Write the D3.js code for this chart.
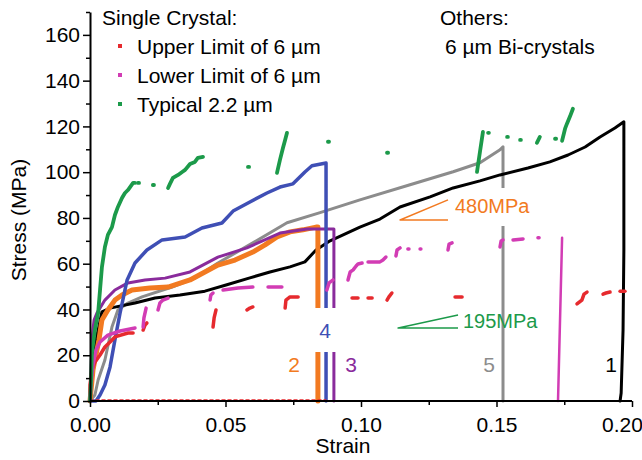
<!DOCTYPE html>
<html lang="en">
<head>
<meta charset="UTF-8">
<title>Stress-Strain</title>
<script src="https://cdn.jsdelivr.net/npm/d3@7/dist/d3.min.js"></script>
<style>
    body { margin: 0; background: #fff; }
    svg text { font-family: "Liberation Sans", Arial, sans-serif; }
</style>
</head>
<body>
<svg width="642" height="460"></svg>
<script>
    // ticks
    var xTicks = [0, 0.05, 0.10, 0.15, 0.20];
    var xMinor = [0.025, 0.075, 0.125, 0.175];
    var yTicks = [0, 20, 40, 60, 80, 100, 120, 140, 160];
    var yMinor = [10, 30, 50, 70, 90, 110, 130, 150, 170];

    // 6um bi-crystals, [strain, stress MPa]
    var curve1 = [[0,0],[0.0007,13.5],[0.0018,24.5],[0.003,31],[0.0044,39],[0.0074,40.6],[0.0166,42.8],
        [0.024,45],[0.0332,46.3],[0.0424,48],[0.0502,50.7],[0.059,53.8],[0.0664,56.4],[0.0738,58.6],
        [0.0793,60.8],[0.0834,66],[0.0886,70],[0.0996,76],[0.107,79.5],[0.1144,84.8],[0.1255,89.2],
        [0.134,93.1],[0.1439,96.2],[0.1513,98.8],[0.1616,101.8],[0.1697,104.5],[0.1764,107.5],
        [0.1827,111],[0.1882,115.4],[0.1937,119.3],[0.197,122],[0.197,66],[0.1967,31],[0.196,3.5],[0.1956,0]];
    var curve2 = [[0,0],[0.0011,13.5],[0.0018,17.9],[0.0033,26.7],[0.0044,35.4],[0.0066,39.8],[0.0092,44.1],
        [0.0118,46.3],[0.0155,48.5],[0.0221,49.4],[0.0288,49.8],[0.0369,52.9],[0.0472,59.4],[0.0535,61.6],
        [0.0601,65.1],[0.0646,68.2],[0.069,71.7],[0.0738,73.9],[0.0786,74.8],[0.0834,76],[0.0841,76],[0.0841,0]];
    var curve3 = [[0,0],[0.0004,13.5],[0.0007,26.7],[0.0015,35.4],[0.0026,38.5],[0.0055,44.1],[0.0092,48.5],
        [0.014,51.6],[0.0203,52.9],[0.0277,53.7],[0.0369,56.4],[0.0472,62.9],[0.0579,66.9],[0.0701,73.4],
        [0.0801,75.2],[0.09,75.2],[0.09,0]];
    var curve4 = [[0,0],[0.0022,0],[0.0037,2.6],[0.0055,7],[0.0074,14.9],[0.0092,26.7],[0.0111,38.5],
        [0.0137,52.9],[0.0166,60.3],[0.021,66],[0.0266,70.4],[0.0351,71.7],[0.0413,75.6],[0.0487,77.8],
        [0.0528,83],[0.059,87],[0.0653,90.9],[0.0701,93.5],[0.0749,94.9],[0.0793,100.1],[0.0819,102.8],
        [0.0871,104],[0.0871,0]];
    var curve5 = [[0,0],[0.0018,2.6],[0.003,9.2],[0.0055,17.9],[0.0081,32.3],[0.0103,39.8],[0.014,42.8],
        [0.0192,45.5],[0.0303,49.8],[0.0387,53.7],[0.0472,60.3],[0.0601,69.1],[0.0727,77.9],[0.0849,82.3],
        [0.0996,87.9],[0.1181,94.5],[0.134,100.2],[0.1439,104.1],[0.1513,109.8],[0.1524,111.1],[0.1524,0]];

    // single crystal, broken records
    var upperLimit = [
        [[0,0],[0,7],[0.0007,13.5],[0.0018,17],[0.0037,20.1],[0.0055,23.6],[0.0074,25.8],[0.0092,28],[0.014,29.7],[0.0159,29.7]],
        [[0.0196,31],[0.0203,33.2],[0.021,34.1]],
        [[0.0454,32.3],[0.0458,36.3],[0.0465,39.8]],
        [[0.0579,39.8],[0.059,40.6],[0.0601,41.1]],
        [[0.072,40.6],[0.0723,44.1],[0.0738,45.5],[0.0768,45.5]],
        [[0.0967,45],[0.0989,45]],
        [[0.1026,45],[0.1041,45]],
        [[0.1096,44.1],[0.1103,45.5],[0.1114,47.2]],
        [[0.1347,45.5],[0.1373,45.5]],
        [[0.1797,42.4],[0.1815,44.1],[0.1823,46.7],[0.1834,47.6]],
        [[0.1893,46.7],[0.1904,47.2],[0.1919,47.6]],
        [[0.1956,48],[0.1974,48]]
    ];
    var upperZero = [[0,0.4],[0.087,0.4]];
    var lowerLimit = [
        [[0,0],[0.0004,7],[0.0011,15.7],[0.0022,22.3],[0.0037,25.8],[0.0066,28.8],[0.0111,30.6],[0.0166,31.9]],
        [[0.0196,32.3],[0.0199,36.3],[0.0207,40.6]],
        [[0.0251,39.8],[0.0258,42.8],[0.0269,44.1],[0.0288,45]],
        [[0.0443,44.1],[0.0446,46.3],[0.0454,47.2]],
        [[0.0491,48.5],[0.0546,49.4],[0.0601,49.8]],
        [[0.0657,49.8],[0.0708,49.8]],
        [[0.0874,48.5],[0.0882,51.6],[0.0897,52.9]],
        [[0.0952,52.9],[0.096,56.4],[0.0971,57.3],[0.0982,59],[0.0989,59.9],[0.1004,60.3]],
        [[0.1026,60.8],[0.107,60.8],[0.1081,61.6],[0.1092,62.9]],
        [[0.1129,63.4],[0.1133,66],[0.1144,66.9]],
        [[0.1173,66.4],[0.1177,66.4]],
        [[0.1218,66.4],[0.1221,66.4]],
        [[0.1321,66],[0.1325,68.6],[0.1336,69.1]],
        [[0.1513,67.3],[0.1517,69.9],[0.1524,70.4]],
        [[0.1561,70.4],[0.1598,70.8]],
        [[0.1653,71.3],[0.1657,71.3]]
    ];
    var lowerDrop = [[0.1742,71.3],[0.1727,0]];
    var typical = [
        [[0,0],[0.0004,9.2],[0.0007,21],[0.0018,31],[0.003,38.5],[0.0037,48.5],[0.0044,58.5],[0.0055,67.3],
         [0.0066,72.6],[0.0081,76],[0.0092,81.3],[0.0103,84.8],[0.0118,88.7],[0.0129,90.9],[0.014,92.2],
         [0.0159,95.3],[0.0166,95.3]],
        [[0.0177,95.3],[0.0181,95.3]],
        [[0.0232,94.4],[0.0236,94.4]],
        [[0.0288,93.1],[0.0295,94.9],[0.0306,97.5],[0.0325,98.8],[0.034,100.1],[0.0351,101],[0.0369,103.6],
         [0.0387,104.5],[0.0398,106.3],[0.0417,106.7]],
        [[0.0583,102.3],[0.0587,102.3]],
        [[0.069,99.7],[0.0701,105.4],[0.0712,110.6],[0.072,114.1],[0.0727,117.2]],
        [[0.0878,113.3],[0.0882,113.3]],
        [[0.1096,108.5],[0.11,108.5]],
        [[0.1428,100.1],[0.1439,108.9],[0.145,117.6]],
        [[0.1469,117.2],[0.1472,117.2]],
        [[0.1539,115.4],[0.1542,115.4]],
        [[0.1587,114.1],[0.159,114.1]],
        [[0.1649,112.8],[0.166,115.4]],
        [[0.1716,114.6],[0.172,114.6]],
        [[0.1742,113.7],[0.1753,119],[0.176,121.2],[0.1771,124.3],[0.1782,127.7]]
    ];

    // slope marks
    var slope480 = [[0.1321,87.9],[0.1144,79.1],[0.1321,79.1]];
    var slope195 = [[0.1358,37.6],[0.1137,31.9],[0.1358,31.9]];

    var svg = d3.select('svg');
    var x = d3.scaleLinear().domain([0, 0.2]).range([90, 632]);
    var y = d3.scaleLinear().domain([0, 170]).range([401, 12]);
    var line = d3.line().x(function(d){return x(d[0])}).y(function(d){return y(d[1])});

    var col = {
        c1: '#000000', c2: '#f27a21', c3: '#8a2b9c', c4: '#3f4fb5', c5: '#8c8c8c',
        red: '#e62a2e', pink: '#d23cb4', green: '#1c9a4a'
    };

    function drawPath(data, color, w, dash){
        var p = svg.append('path')
            .attr('d', line(data))
            .attr('fill', 'none')
            .attr('stroke', color)
            .attr('stroke-width', w)
            .attr('stroke-linejoin', 'round')
            .attr('stroke-linecap', 'round');
        if(dash) p.attr('stroke-dasharray', dash);
        return p;
    }

    /************ curves ************/
    drawPath(curve5, col.c5, 3);
    // white box behind 480MPa
    svg.append('rect').attr('x', 454).attr('y', 188).attr('width', 78).attr('height', 38).attr('fill', '#fff');
    drawPath(curve1, col.c1, 3);
    drawPath(curve2, col.c2, 5);
    drawPath(curve3, col.c3, 3);
    drawPath(curve4, col.c4, 3.5);
    drawPath(upperZero, col.red, 1.5, '3,3');
    upperLimit.forEach(function(s){ drawPath(s, col.red, 3.5); });
    lowerLimit.forEach(function(s){ drawPath(s, col.pink, 3.5); });
    drawPath(lowerDrop, col.pink, 2.5);
    typical.forEach(function(s){ drawPath(s, col.green, 3.8); });

    drawPath(slope480, col.c2, 1.5).attr('stroke-linecap', 'butt');
    drawPath(slope195, col.green, 1.5).attr('stroke-linecap', 'butt');

    /************ axes ************/
    var fs = '21px';
    var xAxis = svg.append('g').attr('transform', 'translate(0,401)')
        .call(d3.axisBottom(x).tickValues(xTicks).tickSize(6).tickSizeOuter(0).tickFormat(d3.format('.2f')));
    svg.append('g').attr('transform', 'translate(0,401)')
        .call(d3.axisBottom(x).tickValues(xMinor).tickSize(4).tickFormat(''))
        .select('.domain').remove();
    var yAxis = svg.append('g').attr('transform', 'translate(90,0)')
        .call(d3.axisLeft(y).tickValues(yTicks).tickSize(7).tickSizeOuter(0));
    svg.append('g').attr('transform', 'translate(90,0)')
        .call(d3.axisLeft(y).tickValues(yMinor).tickSize(4).tickFormat(''))
        .select('.domain').remove();
    svg.selectAll('.tick line').attr('stroke', '#000').attr('stroke-width', 1.5);
    svg.selectAll('.domain').attr('stroke', '#000').attr('stroke-width', 2);
    xAxis.selectAll('text').attr('font-size', fs).attr('fill', '#000').attr('dy', null).attr('y', 31);
    // last label sits against the right edge
    xAxis.selectAll('.tick').filter(function(d){return d === 0.2}).select('text').attr('x', -10);
    yAxis.selectAll('text').attr('font-size', fs).attr('fill', '#000').attr('x', -10);
    xAxis.select('.domain').attr('d', 'M90,0H632');

    function label(t, px, py, color, anchor, size){
        return svg.append('text').text(t)
            .attr('x', px).attr('y', py)
            .attr('fill', color || '#000')
            .attr('font-size', size || fs)
            .attr('text-anchor', anchor || 'start');
    }

    label('Strain', 343, 453, '#000', 'middle');
    label('Stress (MPa)', 0, 0, '#000', 'middle').attr('transform', 'translate(26,220) rotate(-90)');

    // legend
    label('Single Crystal:', 102, 25);
    label('Upper Limit of 6 \u00b5m', 137, 54);
    label('Lower Limit of 6 \u00b5m', 137, 83);
    label('Typical 2.2 \u00b5m', 137, 112);
    var legendKeys = [col.red, col.pink, col.green];
    svg.selectAll('.lg').data(legendKeys).enter().append('rect')
        .attr('x', 118).attr('y', function(d, i){return 44 + 29 * i})
        .attr('width', 4).attr('height', 4).attr('fill', function(d){return d});
    label('Others:', 440, 25);
    label('6 \u00b5m Bi-crystals', 445, 54);

    // slope labels
    label('480MPa', 455, 213, col.c2, 'start', '20px');
    label('195MPa', 463, 328, col.green, 'start', '20px');

    // curve numbers
    svg.append('rect').attr('x', 309).attr('y', 308).attr('width', 32).attr('height', 44).attr('fill', '#fff');
    label('4', 325, 338, col.c4, 'middle');
    label('2', 294, 372, col.c2, 'middle');
    label('3', 351, 372, col.c3, 'middle');
    label('5', 489, 372, col.c5, 'middle');
    label('1', 611, 372, col.c1, 'middle');
</script>
</body>
</html>
